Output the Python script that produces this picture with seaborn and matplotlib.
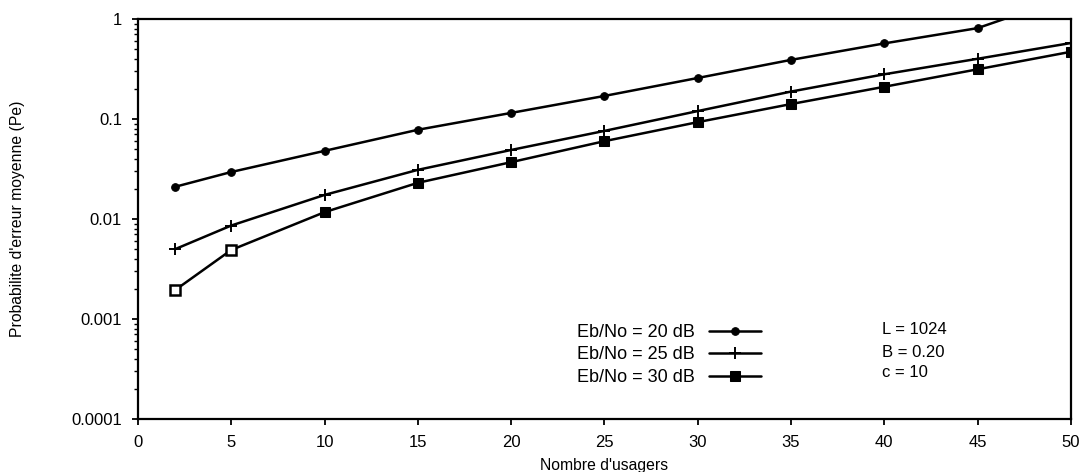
import numpy as np
import pandas as pd
import matplotlib
matplotlib.use("Agg")
import matplotlib.pyplot as plt
import seaborn as sns
from matplotlib.ticker import LogLocator, FixedLocator, NullFormatter

# ─────────────────────────────────────────────────────────────────────
# DATA
# ─────────────────────────────────────────────────────────────────────
users = [2, 5, 10, 15, 20, 25, 30, 35, 40, 45, 50]
pe_20db = [0.021, 0.0295, 0.048, 0.078, 0.115, 0.17, 0.257, 0.39, 0.57, 0.81, 1.7]
pe_25db = [0.0050, 0.0086, 0.0174, 0.031, 0.049, 0.076, 0.12, 0.188, 0.28, 0.40, 0.575]
pe_30db = [0.00195, 0.0049, 0.0117, 0.023, 0.037, 0.060, 0.093, 0.141, 0.21, 0.314, 0.47]
series_names = ["Eb/No = 20 dB", "Eb/No = 25 dB", "Eb/No = 30 dB"]
params_text = ["L = 1024", "B = 0.20", "c = 10"]
x_ticks = [0, 5, 10, 15, 20, 25, 30, 35, 40, 45, 50]
y_ticks = [1e-4, 1e-3, 1e-2, 1e-1, 1]
y_ticklabels = ["0.0001", "0.001", "0.01", "0.1", "1"]

df = pd.DataFrame({
    "users": users * 3,
    "pe": pe_20db + pe_25db + pe_30db,
    "serie": [series_names[0]] * len(users) + [series_names[1]] * len(users) + [series_names[2]] * len(users),
})

sns.set_theme(style="ticks")
plt.rcParams['font.family'] = ['Liberation Sans', 'DejaVu Sans']
plt.rcParams['text.color'] = 'black'
plt.rcParams['axes.labelcolor'] = 'black'

fig = plt.figure(figsize=(10.82, 4.72), dpi=100)
ax = fig.add_axes([0.1275, 0.1123, 0.8623, 0.8475])

marker_styles = {
    series_names[0]: dict(marker="o", markersize=5.5),
    series_names[1]: dict(marker="+", markersize=8, markeredgewidth=1.4),
    series_names[2]: dict(marker="s", markersize=6.5),
}
for name in series_names:
    sub = df[df["serie"] == name]
    sns.lineplot(data=sub, x="users", y="pe", color="black", linewidth=1.8,
                 markeredgecolor="black", label=name, ax=ax, **marker_styles[name])

# hollow squares for the first two points of the 30 dB curve
hollow = df[(df["serie"] == series_names[2]) & (df["users"] <= 5)]
ax.plot(hollow["users"], hollow["pe"], linestyle="none", marker="s", markersize=6.5,
        markerfacecolor="white", markeredgecolor="black", markeredgewidth=1.8)

ax.set_yscale("log")
ax.set_ylim(1e-4, 1)
ax.set_xlim(0, 50)
ax.yaxis.set_major_locator(FixedLocator(y_ticks))
ax.set_yticklabels(y_ticklabels)
ax.yaxis.set_minor_locator(LogLocator(base=10, subs=np.arange(2, 10)))
ax.yaxis.set_minor_formatter(NullFormatter())
ax.set_xticks(x_ticks)

ax.tick_params(axis="both", which="major", direction="out", length=4.5, width=1.3,
               labelsize=12, colors="black", pad=7)
ax.tick_params(axis="y", which="minor", direction="out", length=3, width=1, colors="black")
for s in ax.spines.values():
    s.set_visible(True)
    s.set_linewidth(1.6)
    s.set_color("black")

ax.set_xlabel("Nombre d'usagers", fontsize=11.3, labelpad=6)
ax.set_ylabel("Probabilite d'erreur moyenne (Pe)", fontsize=11.3, labelpad=33)

leg = ax.legend(loc="upper left", bbox_to_anchor=(0.518, 0.348),
                bbox_transform=fig.transFigure, frameon=False,
                markerfirst=False, handlelength=2.9, fontsize=13, labelspacing=0.3,
                handletextpad=0.8, borderpad=0.4)

for t, yy in zip(params_text, [0.301, 0.254, 0.21]):
    fig.text(0.815, yy, t, fontsize=12, va="center", ha="left")

fig.savefig("out.png", dpi=100)
